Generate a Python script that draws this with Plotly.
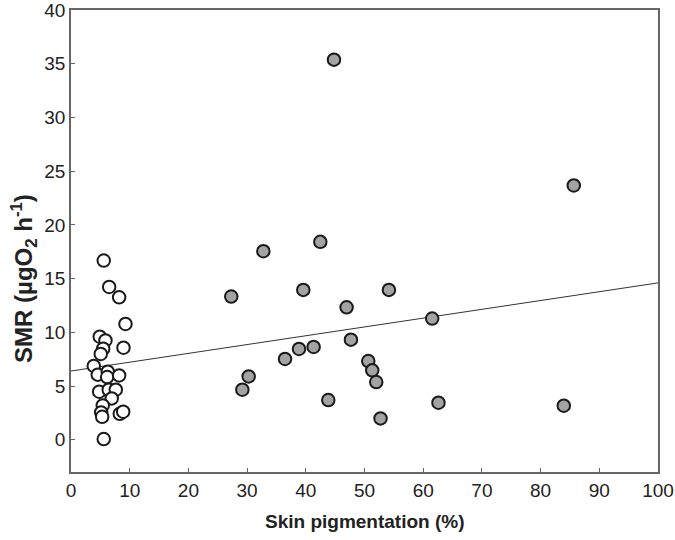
import plotly.graph_objects as go

# Light-skinned group (open circles)
white_x = [5.58, 6.50, 8.20, 9.28, 4.90, 5.87, 5.48, 5.07, 8.94, 3.88, 4.56, 6.26,
           6.16, 8.20, 4.80, 6.43, 7.63, 6.94, 5.41, 5.14, 5.31, 8.31, 8.89, 5.58]
white_y = [16.68, 14.22, 13.26, 10.78, 9.59, 9.25, 8.48, 7.99, 8.57, 6.87, 6.06, 6.34,
           5.84, 5.99, 4.47, 4.66, 4.66, 3.85, 3.20, 2.54, 2.14, 2.42, 2.61, 0.07]

# Pigmented group (grey circles)
grey_x = [44.8, 85.65, 27.3, 32.77, 42.47, 39.57, 54.16, 46.95, 61.53, 47.69, 38.84,
          41.33, 36.46, 50.64, 51.32, 52.0, 30.27, 29.19, 43.83, 62.6, 52.73, 83.95]
grey_y = [35.38, 23.67, 13.33, 17.55, 18.42, 13.95, 13.95, 12.33, 11.28, 9.32, 8.45,
          8.64, 7.52, 7.33, 6.46, 5.37, 5.9, 4.66, 3.7, 3.45, 1.99, 3.17]

# Regression line endpoints
fit_x = [0, 100]
fit_y = [6.4, 14.6]

x_ticks = list(range(0, 101, 10))
y_ticks = list(range(0, 41, 5))

FONT = "Liberation Sans, Arial, sans-serif"

fig = go.Figure()
fig.add_trace(go.Scatter(x=fit_x, y=fit_y, mode="lines",
                         line=dict(color="#333333", width=1), showlegend=False,
                         hoverinfo="skip"))
fig.add_trace(go.Scatter(x=white_x, y=white_y, mode="markers",
                         marker=dict(size=12.5, color="white",
                                     line=dict(color="#1a1a1a", width=2)),
                         showlegend=False))
fig.add_trace(go.Scatter(x=grey_x, y=grey_y, mode="markers",
                         marker=dict(size=12.5, color="#a3a3a3",
                                     line=dict(color="#1a1a1a", width=2)),
                         showlegend=False))

fig.update_layout(
    width=675, height=540,
    margin=dict(l=71, r=17, t=10, b=68, autoexpand=False),
    plot_bgcolor="white", paper_bgcolor="white",
    font=dict(family=FONT, size=19, color="#222222"),
    showlegend=False,
)
fig.update_xaxes(range=[0, 100], tickvals=x_ticks, ticks="inside", ticklen=4,
                 tickcolor="#666666", showline=True, linecolor="#666666", linewidth=1.5,
                 mirror=True, showgrid=False, zeroline=False, automargin=False,
                 ticklabeloverflow="allow",
                 tickfont=dict(family=FONT, size=19, color="#222222"))
fig.update_yaxes(range=[-3, 40], tickvals=y_ticks, ticks="inside", ticklen=4,
                 tickcolor="#666666", showline=True, linecolor="#666666", linewidth=1.5,
                 mirror=True, showgrid=False, zeroline=False, automargin=False,
                 ticklabeloverflow="allow",
                 tickfont=dict(family=FONT, size=19, color="#222222"))

fig.add_annotation(text="<b>Skin pigmentation (%)</b>", xref="paper", yref="paper",
                   x=0.5, y=-0.108, xanchor="center", yanchor="middle",
                   showarrow=False, font=dict(family=FONT, size=19, color="#222222"))
fig.add_annotation(text="<b>SMR (µgO<sub>2</sub> h<sup>-1</sup>)</b>", xref="paper", yref="paper",
                   x=-0.08, y=0.418, xanchor="center", yanchor="middle", textangle=-90,
                   showarrow=False, font=dict(family=FONT, size=24, color="#222222"))

fig.write_html("out.html", config={"displayModeBar": False},
               post_script="document.body.style.margin='0px';document.body.style.overflow='hidden';")
